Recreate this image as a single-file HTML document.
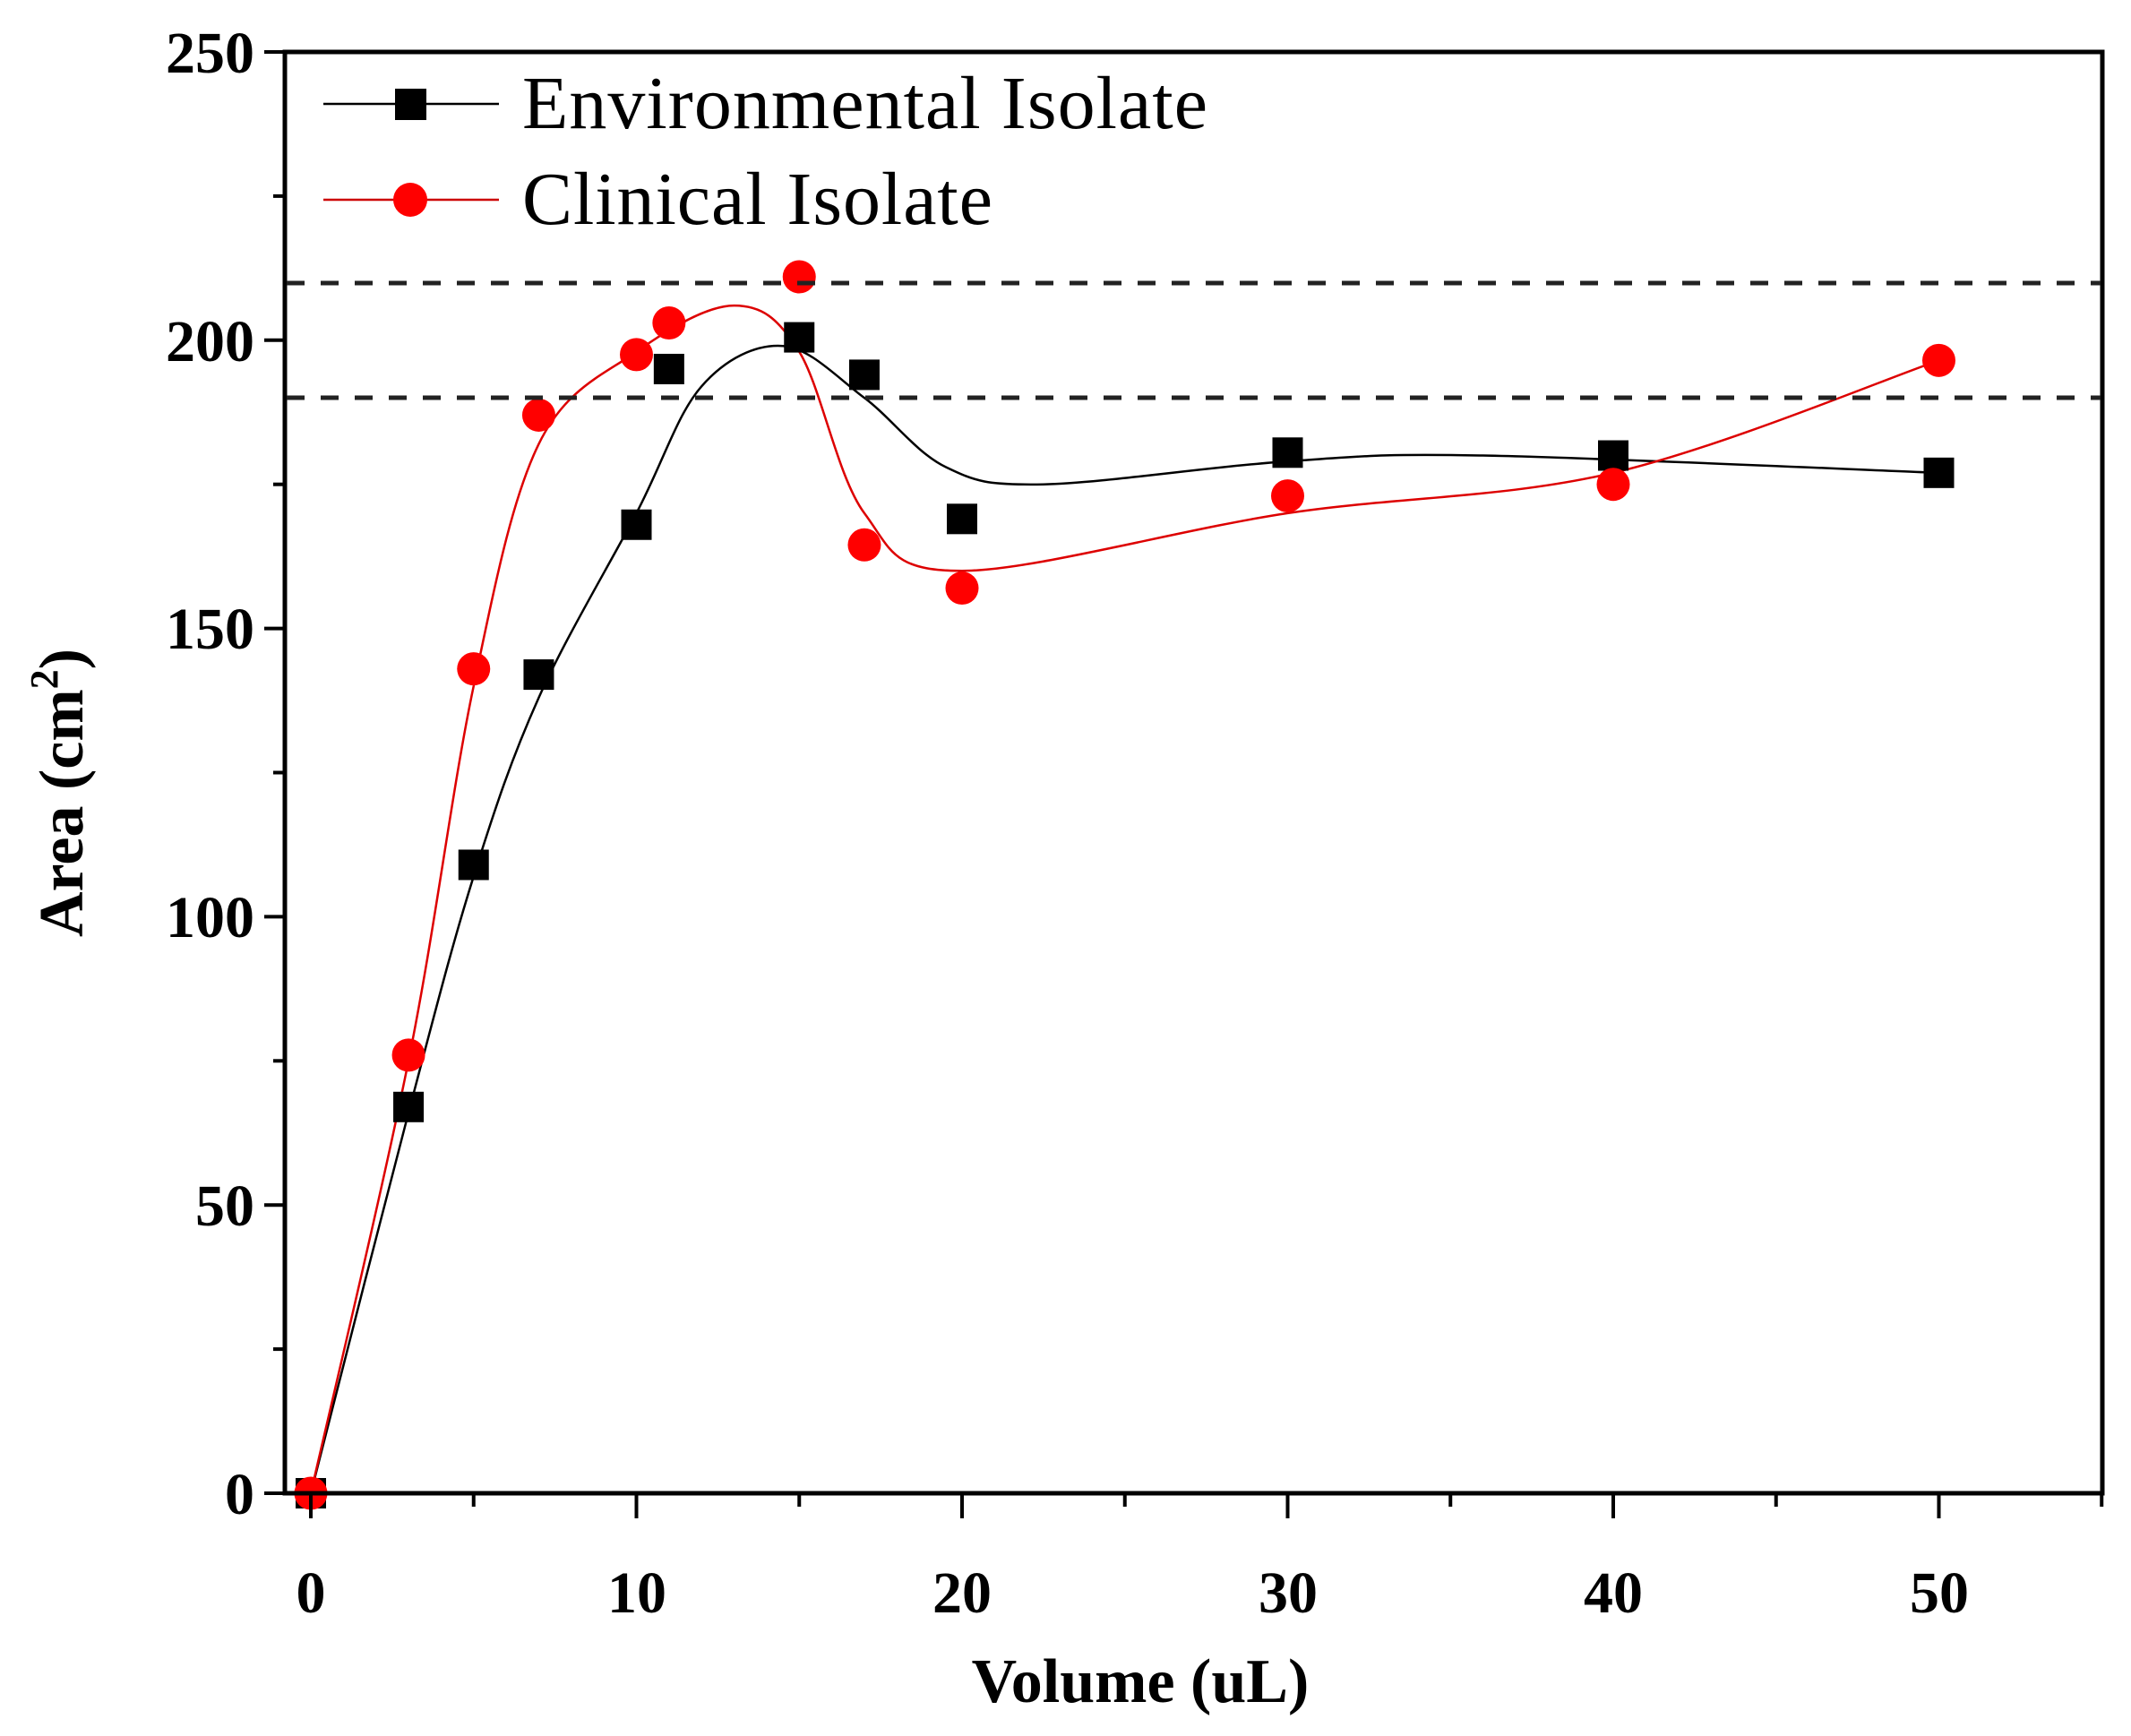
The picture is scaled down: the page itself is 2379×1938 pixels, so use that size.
<!DOCTYPE html>
<html><head><meta charset="utf-8"><style>
html,body{margin:0;padding:0;background:#fff;}
svg{display:block;}
text{font-family:"Liberation Serif",serif;}
</style></head><body>
<svg id="s" width="2379" height="1938" viewBox="0 0 2379 1938" xmlns="http://www.w3.org/2000/svg">
<rect width="2379" height="1938" fill="#fff"/>
<g id="g"></g>
<rect x="318" y="58" width="2029" height="1609" fill="none" stroke="#000" stroke-width="5"/>
<line x1="320" y1="316" x2="2345" y2="316" stroke="#222" stroke-width="5" stroke-dasharray="20,18"/>
<line x1="320" y1="444" x2="2345" y2="444" stroke="#222" stroke-width="5" stroke-dasharray="20,18"/>
<g id="ticks" stroke="#000" stroke-width="4"></g>
<g font-weight="bold" font-size="66" text-anchor="end">
<text x="284" y="1690">0</text>
<text x="284" y="1368">50</text>
<text x="284" y="1046">100</text>
<text x="284" y="724">150</text>
<text x="284" y="403">200</text>
<text x="284" y="81">250</text>
</g>
<g font-weight="bold" font-size="66" text-anchor="middle">
<text x="347" y="1800">0</text>
<text x="711" y="1800">10</text>
<text x="1074" y="1800">20</text>
<text x="1438" y="1800">30</text>
<text x="1801" y="1800">40</text>
<text x="2165" y="1800">50</text>
</g>
<text x="1273" y="1900" font-weight="bold" font-size="70" text-anchor="middle">Volume (uL)</text>
<text transform="translate(92,885) rotate(-90)" font-weight="bold" font-size="70" text-anchor="middle">Area (cm<tspan dy="-28" font-size="44">2</tspan><tspan dy="28">)</tspan></text>
<line x1="361" y1="116" x2="557" y2="116" stroke="#000" stroke-width="2.5"/>
<rect x="441" y="99" width="35" height="35" fill="#000"/>
<text x="583" y="143" font-size="84" textLength="765">Environmental Isolate</text>
<line x1="361" y1="223" x2="557" y2="223" stroke="#c00" stroke-width="2.5"/>
<circle cx="458" cy="223" r="19" fill="#f00"/>
<text x="583" y="250" font-size="84" textLength="525">Clinical Isolate</text>
</svg>
<script>
var X=function(v){return 347+v*36.35;},Y=function(v){return 1667-v*6.436;};
var ns="http://www.w3.org/2000/svg",g=document.getElementById('g'),tk=document.getElementById('ticks');
function el(t,a,p){var e=document.createElementNS(ns,t);for(var k in a)e.setAttribute(k,a[k]);(p||g).appendChild(e);return e;}
for(var v=0;v<=250;v+=25){var y=Y(v);el('line',{x1:v%50?305:295,y1:y,x2:318,y2:y},tk);}
for(var v=0;v<=55;v+=5){var x=X(v);el('line',{x1:x,y1:1667,x2:x,y2:v%10?1682:1695},tk);}
function cr(pts){var P=pts.map(function(p){return [X(p[0]),Y(p[1])];});var d='M'+P[0][0]+','+P[0][1];
for(var i=0;i<P.length-1;i++){var p0=P[i-1]||P[i],p1=P[i],p2=P[i+1],p3=P[i+2]||P[i+1];
d+=' C'+(p1[0]+(p2[0]-p0[0])/6)+','+(p1[1]+(p2[1]-p0[1])/6)+' '+(p2[0]-(p3[0]-p1[0])/6)+','+(p2[1]-(p3[1]-p1[1])/6)+' '+p2[0]+','+p2[1];}return d;}
var bc=[[0,0],[3,66],[5,107],[7,138],[10,170],[12,192],[14.5,199],[17,190],[19.5,178],[22.5,175],[30,179],[36,180],[50,177]];
var rc=[[0,0],[3,75],[5,140],[7,182],[10,198],[13,206],[15,198],[17,170],[20,160],[30,170],[40,177],[50,196.5]];
el('path',{d:cr(bc),fill:'none',stroke:'#000','stroke-width':2.5});
el('path',{d:cr(rc),fill:'none',stroke:'#d00','stroke-width':2.5});
var bd=[[0,0],[3,67],[5,109],[7,142],[10,168],[11,195],[15,200.5],[17,194],[20,169],[30,180.5],[40,180],[50,177]];
var rd=[[0,0],[3,76],[5,143],[7,187],[10,197.5],[11,203],[15,211],[17,164.5],[20,157],[30,173],[40,175],[50,196.5]];
bd.forEach(function(p){el('rect',{x:X(p[0])-17,y:Y(p[1])-17,width:34,height:34,fill:'#000'});});
rd.forEach(function(p){el('circle',{cx:X(p[0]),cy:Y(p[1]),r:18.5,fill:'#f00'});});
</script>
</body></html>
